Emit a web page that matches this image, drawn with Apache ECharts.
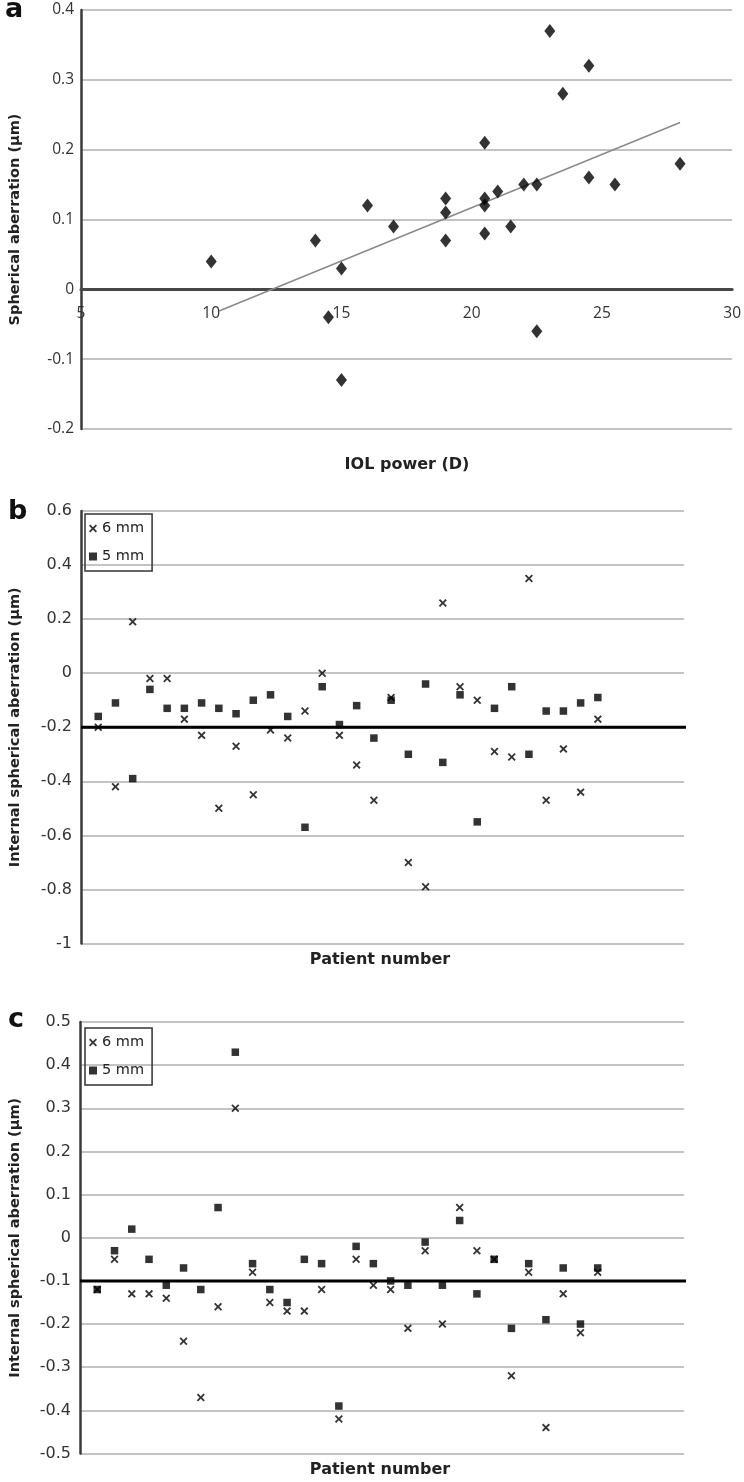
<!DOCTYPE html>
<html><head><meta charset="utf-8">
<script src="https://cdn.jsdelivr.net/npm/echarts@6/dist/echarts.min.js"></script>
<style>html,body{margin:0;padding:0;background:#fff}#c{width:744px;height:1482px}</style>
</head><body><div id="c"></div>
<script>
// Panel a
const iolPower = [10, 14, 14.5, 15, 15, 16, 17, 19, 19, 19, 20.5, 20.5, 20.5, 20.5, 21, 21.5, 22, 22.5, 22.5, 23, 23.5, 24.5, 24.5, 25.5, 28];
const sphAb    = [0.04, 0.07, -0.04, 0.03, -0.13, 0.12, 0.09, 0.13, 0.11, 0.07, 0.21, 0.13, 0.12, 0.08, 0.14, 0.09, 0.15, 0.15, -0.06, 0.37, 0.28, 0.32, 0.16, 0.15, 0.18];
const trendX = [10.3, 28];
const trendY = [-0.031, 0.239];
// Panels b, c
const patients = [1,2,3,4,5,6,7,8,9,10,11,12,13,14,15,16,17,18,19,20,21,22,23,24,25,26,27,28,29,30];
const b6mm = [-0.20,-0.42,0.19,-0.02,-0.02,-0.17,-0.23,-0.50,-0.27,-0.45,-0.21,-0.24,-0.14,0.00,-0.23,-0.34,-0.47,-0.09,-0.70,-0.79,0.26,-0.05,-0.10,-0.29,-0.31,0.35,-0.47,-0.28,-0.44,-0.17];
const b5mm = [-0.16,-0.11,-0.39,-0.06,-0.13,-0.13,-0.11,-0.13,-0.15,-0.10,-0.08,-0.16,-0.57,-0.05,-0.19,-0.12,-0.24,-0.10,-0.30,-0.04,-0.33,-0.08,-0.55,-0.13,-0.05,-0.30,-0.14,-0.14,-0.11,-0.09];
const bMean = -0.2;
const c6mm = [-0.12,-0.05,-0.13,-0.13,-0.14,-0.24,-0.37,-0.16,0.30,-0.08,-0.15,-0.17,-0.17,-0.12,-0.42,-0.05,-0.11,-0.12,-0.21,-0.03,-0.20,0.07,-0.03,-0.05,-0.32,-0.08,-0.44,-0.13,-0.22,-0.08];
const c5mm = [-0.12,-0.03,0.02,-0.05,-0.11,-0.07,-0.12,0.07,0.43,-0.06,-0.12,-0.15,-0.05,-0.06,-0.39,-0.02,-0.06,-0.10,-0.11,-0.01,-0.11,0.04,-0.13,-0.05,-0.21,-0.06,-0.19,-0.07,-0.20,-0.07];
const cMean = -0.1;
const xTicksA = [5, 30, 5];     // min, max, interval
const yTicksA = [-0.2, 0.4, 0.1];
const yTicksB = [-1, 0.6, 0.2];
const yTicksC = [-0.5, 0.5, 0.1];
const patientAxis = [0, 35];

const X_PATH = 'path://M0,1.6L1.6,0L5,3.4L8.4,0L10,1.6L6.6,5L10,8.4L8.4,10L5,6.6L1.6,10L0,8.4L3.4,5Z';
const GRID = '#c4c4c4';
const AX = '#3a3a3a';
const fmt = v => String(+v.toFixed(1));
const zip = (xs, ys) => xs.map((x, i) => [x, ys[i]]);

const gridA = { left: 81, top: 10, width: 652, height: 419 };
// place the x axis of panel a on its zero line (height * share of range below zero)
const zeroOffsetA = -gridA.height * (0 - yTicksA[0]) / (yTicksA[1] - yTicksA[0]);

function yAx(gi, t, name, gap, font) {
  return {
    gridIndex: gi, type: 'value', min: t[0], max: t[1], interval: t[2],
    name: name, nameLocation: 'middle', nameGap: gap, nameRotate: 90,
    nameTextStyle: { fontFamily: 'DejaVu Sans', fontWeight: 'bold', fontSize: 14.5, color: '#222' },
    axisLine: { show: true, onZero: false, lineStyle: { color: AX, width: 2.5 } },
    axisTick: { show: false },
    axisLabel: { fontFamily: font.f, fontSize: font.s, color: '#333', margin: font.m, formatter: fmt },
    splitLine: { show: true, lineStyle: { color: GRID, width: 2 } }
  };
}

const chart = echarts.init(document.getElementById('c'), null, { renderer: 'canvas' });
chart.setOption({
  animation: false,
  backgroundColor: '#fff',
  grid: [
    gridA,
    { left: 81, top: 511, width: 603, height: 432.5 },
    { left: 80, top: 1022, width: 604, height: 431.5 }
  ],
  xAxis: [
    { gridIndex: 0, type: 'value', min: xTicksA[0], max: xTicksA[1], interval: xTicksA[2],
      position: 'bottom', offset: zeroOffsetA,
      axisLine: { onZero: false, lineStyle: { color: '#474747', width: 3 } },
      axisTick: { show: false },
      axisLabel: { fontFamily: 'Open Sans', fontSize: 15.5, color: '#333', margin: 16 },
      splitLine: { show: false } },
    { gridIndex: 1, type: 'value', min: patientAxis[0], max: patientAxis[1], show: false },
    { gridIndex: 2, type: 'value', min: patientAxis[0], max: patientAxis[1], show: false }
  ],
  yAxis: [
    yAx(0, yTicksA, 'Spherical aberration (μm)', 58, { f: 'Open Sans', s: 15.5, m: 7 }),
    yAx(1, yTicksB, 'Internal spherical aberration (μm)', 58, { f: 'DejaVu Sans', s: 16, m: 9 }),
    yAx(2, yTicksC, 'Internal spherical aberration (μm)', 57, { f: 'DejaVu Sans', s: 16, m: 9 })
  ],
  legend: [
    { left: 85, top: 514, orient: 'vertical', itemGap: 13, itemWidth: 8, itemHeight: 8,
      padding: [7, 8, 7, 4], borderColor: '#333', borderWidth: 1.5, selectedMode: false,
      textStyle: { fontFamily: 'DejaVu Sans', fontSize: 14.5, color: '#222' },
      data: [{ name: '6 mm', icon: X_PATH }, { name: '5 mm', icon: 'rect' }] },
    { left: 85, top: 1028, orient: 'vertical', itemGap: 13, itemWidth: 8, itemHeight: 8,
      padding: [7, 8, 7, 4], borderColor: '#333', borderWidth: 1.5, selectedMode: false,
      textStyle: { fontFamily: 'DejaVu Sans', fontSize: 14.5, color: '#222' },
      data: [{ name: '6 mm', icon: X_PATH }, { name: '5 mm', icon: 'rect' }] }
  ],
  graphic: [
    { type: 'text', left: 5, top: -4, style: { text: 'a', font: 'bold 27px "DejaVu Sans"', fill: '#111' } },
    { type: 'text', left: 8, top: 498, style: { text: 'b', font: 'bold 27px "DejaVu Sans"', fill: '#111' } },
    { type: 'text', left: 8, top: 1006, style: { text: 'c', font: 'bold 27px "DejaVu Sans"', fill: '#111' } },
    { type: 'text', x: 407, y: 465, style: { text: 'IOL power (D)', font: 'bold 16px "DejaVu Sans"', fill: '#222', align: 'center', verticalAlign: 'middle' } },
    { type: 'text', x: 380, y: 960, style: { text: 'Patient number', font: 'bold 16px "DejaVu Sans"', fill: '#222', align: 'center', verticalAlign: 'middle' } },
    { type: 'text', x: 380, y: 1470, style: { text: 'Patient number', font: 'bold 16px "DejaVu Sans"', fill: '#222', align: 'center', verticalAlign: 'middle' } }
  ],
  series: [
    { type: 'line', xAxisIndex: 0, yAxisIndex: 0, data: zip(trendX, trendY), symbol: 'none',
      lineStyle: { color: '#8a8a8a', width: 1.5 }, z: 3 },
    { type: 'scatter', xAxisIndex: 0, yAxisIndex: 0, data: zip(iolPower, sphAb), symbol: 'diamond',
      symbolSize: [11, 14], itemStyle: { color: '#000' }, z: 4 },

    { type: 'line', xAxisIndex: 1, yAxisIndex: 1, data: [[patientAxis[0], bMean], [patientAxis[1] + 0.3, bMean]],
      symbol: 'none', clip: false, lineStyle: { color: '#000', width: 3 }, z: 3 },
    { name: '5 mm', type: 'scatter', xAxisIndex: 1, yAxisIndex: 1, data: zip(patients, b5mm), symbol: 'rect',
      symbolSize: 7.5, itemStyle: { color: '#000' }, z: 4 },
    { name: '6 mm', type: 'scatter', xAxisIndex: 1, yAxisIndex: 1, data: zip(patients, b6mm), symbol: X_PATH,
      symbolSize: 8, itemStyle: { color: '#000' }, z: 5 },

    { type: 'line', xAxisIndex: 2, yAxisIndex: 2, data: [[patientAxis[0], cMean], [patientAxis[1] + 0.3, cMean]],
      symbol: 'none', clip: false, lineStyle: { color: '#000', width: 3 }, z: 3 },
    { name: '5 mm', type: 'scatter', xAxisIndex: 2, yAxisIndex: 2, data: zip(patients, c5mm), symbol: 'rect',
      symbolSize: 7.5, itemStyle: { color: '#000' }, z: 4 },
    { name: '6 mm', type: 'scatter', xAxisIndex: 2, yAxisIndex: 2, data: zip(patients, c6mm), symbol: X_PATH,
      symbolSize: 8, itemStyle: { color: '#000' }, z: 5 }
  ]
});
</script>
</body></html>
